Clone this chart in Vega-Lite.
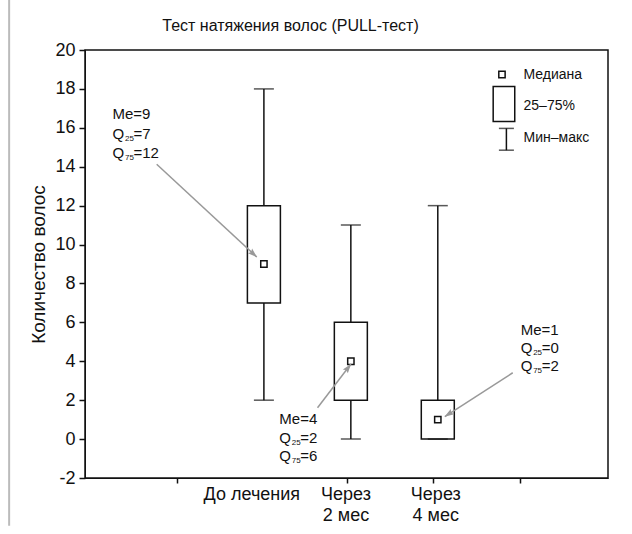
{
  "$schema": "https://vega.github.io/schema/vega-lite/v6.json",
  "width": 523,
  "height": 428,
  "autosize": {"type": "none"},
  "padding": {"left": 85, "top": 50, "right": 24, "bottom": 56},
  "background": "white",
  "config": {
    "font": "Liberation Sans",
    "view": {"stroke": "#111", "strokeWidth": 1.5},
    "axis": {"grid": false, "domainColor": "#111", "tickColor": "#111", "labelColor": "#111", "titleColor": "#111", "labelFont": "Liberation Sans", "titleFont": "Liberation Sans"}
  },
  "title": {
    "text": "Тест натяжения волос (PULL-тест)",
    "fontSize": 16,
    "fontWeight": "normal",
    "color": "#111",
    "anchor": "middle",
    "dx": -56,
    "offset": -36,
    "font": "Liberation Sans"
  },
  "datasets": {
    "boxes": [
      {"group": "До лечения", "pos": 1, "min": 2, "q1": 7, "median": 9, "q3": 12, "max": 18},
      {"group": "Через 2 мес", "pos": 2, "min": 0, "q1": 2, "median": 4, "q3": 6, "max": 11},
      {"group": "Через 4 мес", "pos": 3, "min": 0, "q1": 0, "median": 1, "q3": 2, "max": 12}
    ],
    "arrows": [
      {"id": 1, "x1": -0.233, "y1": 14.13, "x2": 0.918, "y2": 9.36, "hx": 0.876, "hy": 9.53},
      {"id": 2, "x1": 1.617, "y1": 1.615, "x2": 2.001, "y2": 3.856, "hx": 1.966, "hy": 3.651},
      {"id": 3, "x1": 3.862, "y1": 3.41, "x2": 3.081, "y2": 1.154, "hx": 3.128, "hy": 1.292}
    ],
    "ann": [
      {"pre": "Me=9", "sub": "", "post": "", "x": -0.741, "y": 16.69},
      {"pre": "Q", "sub": "25", "post": "=7", "x": -0.741, "y": 15.67},
      {"pre": "Q", "sub": "75", "post": "=12", "x": -0.741, "y": 14.69},
      {"pre": "Me=4", "sub": "", "post": "", "x": 1.177, "y": 1.05},
      {"pre": "Q", "sub": "25", "post": "=2", "x": 1.177, "y": 0.077},
      {"pre": "Q", "sub": "75", "post": "=6", "x": 1.177, "y": -0.846},
      {"pre": "Me=1", "sub": "", "post": "", "x": 3.953, "y": 5.615},
      {"pre": "Q", "sub": "25", "post": "=0", "x": 3.953, "y": 4.69},
      {"pre": "Q", "sub": "75", "post": "=2", "x": 3.953, "y": 3.77}
    ],
    "cats": [
      {"label": "До лечения", "lx": 0.861},
      {"label": "Через\n2 мес", "lx": 1.944},
      {"label": "Через\n4 мес", "lx": 2.977}
    ],
    "legendText": [
      {"t": "Медиана", "x": 3.986, "y": 18.74},
      {"t": "25–75%", "x": 3.986, "y": 17.1},
      {"t": "Мин–макс", "x": 3.986, "y": 15.46}
    ]
  },
  "layer": [
    {
      "data": {"name": "boxes"},
      "mark": {"type": "rule", "color": "#111", "strokeWidth": 1.5},
      "encoding": {
        "x": {"field": "pos", "type": "quantitative", "scale": {"domain": [-1, 4.9], "nice": false, "zero": false},
              "axis": {"title": null, "values": [0, 1.96, 2.94, 3.94], "tickCount": 30, "labels": false, "tickSize": 5, "tickWidth": 1.5}},
        "y": {"field": "min", "type": "quantitative", "scale": {"domain": [-2, 20], "nice": false, "zero": false},
              "axis": {"title": "Количество волос", "values": [-2, 0, 2, 4, 6, 8, 10, 12, 14, 16, 18, 20], "tickCount": 30, "labelExpr": "'' + datum.value", "labelOverlap": false, "labelFontSize": 18, "tickSize": 6, "tickWidth": 1.5, "labelPadding": 4, "titleFontSize": 19, "titleFontWeight": "normal", "titlePadding": 6}},
        "y2": {"field": "max"}
      }
    },
    {
      "data": {"name": "boxes"},
      "mark": {"type": "bar", "size": 33, "fill": "white", "stroke": "#111", "strokeWidth": 1.5},
      "encoding": {
        "x": {"field": "pos", "type": "quantitative"},
        "y": {"field": "q1", "type": "quantitative"},
        "y2": {"field": "q3"}
      }
    },
    {
      "data": {"name": "boxes"},
      "mark": {"type": "tick", "orient": "horizontal", "size": 20, "thickness": 1.5, "color": "#111"},
      "encoding": {
        "x": {"field": "pos", "type": "quantitative"},
        "y": {"field": "max", "type": "quantitative"}
      }
    },
    {
      "data": {"name": "boxes"},
      "mark": {"type": "tick", "orient": "horizontal", "size": 20, "thickness": 1.5, "color": "#111"},
      "encoding": {
        "x": {"field": "pos", "type": "quantitative"},
        "y": {"field": "min", "type": "quantitative"}
      }
    },
    {
      "data": {"name": "boxes"},
      "mark": {"type": "point", "shape": "square", "size": 40, "filled": true, "fill": "white", "stroke": "#111", "strokeWidth": 1.5, "opacity": 1},
      "encoding": {
        "x": {"field": "pos", "type": "quantitative"},
        "y": {"field": "median", "type": "quantitative"}
      }
    },
    {
      "data": {"name": "arrows"},
      "mark": {"type": "rule", "color": "#999", "strokeWidth": 1.5},
      "encoding": {
        "x": {"field": "x1", "type": "quantitative"},
        "y": {"field": "y1", "type": "quantitative"},
        "x2": {"field": "x2"},
        "y2": {"field": "y2"}
      }
    },
    {
      "data": {"name": "arrows"},
      "transform": [{"filter": "datum.id == 1"}],
      "mark": {"type": "point", "shape": "M0,-1L0.6,0.8L0,0.5L-0.6,0.8Z", "size": 110, "filled": true, "color": "#999", "opacity": 1, "angle": 132},
      "encoding": {
        "x": {"field": "hx", "type": "quantitative"},
        "y": {"field": "hy", "type": "quantitative"}
      }
    },
    {
      "data": {"name": "arrows"},
      "transform": [{"filter": "datum.id == 2"}],
      "mark": {"type": "point", "shape": "M0,-1L0.6,0.8L0,0.5L-0.6,0.8Z", "size": 110, "filled": true, "color": "#999", "opacity": 1, "angle": 37.5},
      "encoding": {
        "x": {"field": "hx", "type": "quantitative"},
        "y": {"field": "hy", "type": "quantitative"}
      }
    },
    {
      "data": {"name": "arrows"},
      "transform": [{"filter": "datum.id == 3"}],
      "mark": {"type": "point", "shape": "M0,-1L0.6,0.8L0,0.5L-0.6,0.8Z", "size": 110, "filled": true, "color": "#999", "opacity": 1, "angle": 237.5},
      "encoding": {
        "x": {"field": "hx", "type": "quantitative"},
        "y": {"field": "hy", "type": "quantitative"}
      }
    },
    {
      "data": {"name": "ann"},
      "mark": {"type": "text", "align": "left", "baseline": "middle", "fontSize": 15, "color": "#111"},
      "encoding": {
        "x": {"field": "x", "type": "quantitative"},
        "y": {"field": "y", "type": "quantitative"},
        "text": {"field": "pre"}
      }
    },
    {
      "data": {"name": "ann"},
      "mark": {"type": "text", "align": "left", "baseline": "middle", "fontSize": 8, "dx": 12.5, "dy": 5, "color": "#111"},
      "encoding": {
        "x": {"field": "x", "type": "quantitative"},
        "y": {"field": "y", "type": "quantitative"},
        "text": {"field": "sub"}
      }
    },
    {
      "data": {"name": "ann"},
      "mark": {"type": "text", "align": "left", "baseline": "middle", "fontSize": 15, "dx": 21, "color": "#111"},
      "encoding": {
        "x": {"field": "x", "type": "quantitative"},
        "y": {"field": "y", "type": "quantitative"},
        "text": {"field": "post"}
      }
    },
    {
      "data": {"name": "cats"},
      "mark": {"type": "text", "align": "center", "baseline": "top", "fontSize": 18, "lineBreak": "\n", "lineHeight": 21, "dy": 8, "color": "#111"},
      "encoding": {
        "x": {"field": "lx", "type": "quantitative"},
        "y": {"datum": -2, "type": "quantitative"},
        "text": {"field": "label"}
      }
    },
    {
      "data": {"values": [{}]},
      "mark": {"type": "point", "shape": "square", "size": 40, "filled": true, "fill": "white", "stroke": "#111", "strokeWidth": 1.5, "opacity": 1},
      "encoding": {
        "x": {"datum": 3.738, "type": "quantitative"},
        "y": {"datum": 18.74, "type": "quantitative"}
      }
    },
    {
      "data": {"values": [{}]},
      "mark": {"type": "rect", "fill": "white", "stroke": "#111", "strokeWidth": 1.5},
      "encoding": {
        "x": {"datum": 3.637, "type": "quantitative"},
        "x2": {"datum": 3.885},
        "y": {"datum": 18.13, "type": "quantitative"},
        "y2": {"datum": 16.33}
      }
    },
    {
      "data": {"values": [{}]},
      "mark": {"type": "rule", "color": "#111", "strokeWidth": 1.5},
      "encoding": {
        "x": {"datum": 3.789, "type": "quantitative"},
        "y": {"datum": 15.97, "type": "quantitative"},
        "y2": {"datum": 14.85}
      }
    },
    {
      "data": {"values": [{"v": 15.97}, {"v": 14.85}]},
      "mark": {"type": "tick", "orient": "horizontal", "size": 15, "thickness": 1.5, "color": "#111"},
      "encoding": {
        "x": {"datum": 3.789, "type": "quantitative"},
        "y": {"field": "v", "type": "quantitative"}
      }
    },
    {
      "data": {"name": "legendText"},
      "mark": {"type": "text", "align": "left", "baseline": "middle", "fontSize": 14, "color": "#111"},
      "encoding": {
        "x": {"field": "x", "type": "quantitative"},
        "y": {"field": "y", "type": "quantitative"},
        "text": {"field": "t"}
      }
    },
    {
      "data": {"values": [{}]},
      "mark": {"type": "rule", "color": "#bbb", "strokeWidth": 2},
      "encoding": {
        "x": {"datum": -1.93, "type": "quantitative"},
        "y": {"datum": 22.6, "type": "quantitative"},
        "y2": {"datum": -4.45}
      }
    }
  ]
}
